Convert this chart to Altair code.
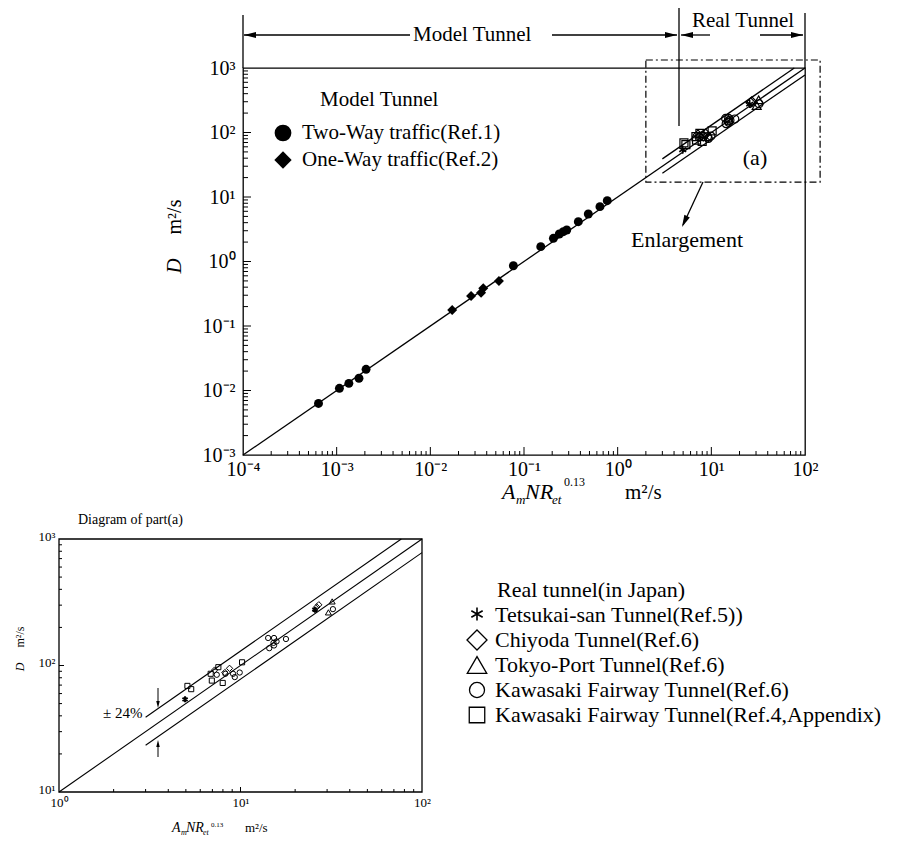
import altair as alt
import pandas as pd

# ---------------- data ----------------
# Model tunnel (main plot)
two_way_x = [6.4e-4, 1.07e-3, 1.35e-3, 1.73e-3, 2.06e-3, 0.077, 0.151, 0.206, 0.238, 0.263, 0.286, 0.38, 0.486, 0.647, 0.774]
two_way_d = [6.3e-3, 1.08e-2, 1.29e-2, 1.55e-2, 2.13e-2, 0.86, 1.70, 2.29, 2.67, 2.90, 3.08, 4.14, 5.45, 7.09, 8.77]
one_way_x = [0.0171, 0.0272, 0.0348, 0.0367, 0.054]
one_way_d = [0.177, 0.292, 0.328, 0.384, 0.499]

# Real tunnels (inset and main)
tetsukai_x = [4.95, 25.7]
tetsukai_d = [54, 276]
chiyoda_x = [7.2, 8.2, 8.7, 26.3, 27.0]
chiyoda_d = [92, 88, 95, 290, 302]
tokyo_x = [32.0, 30.5]
tokyo_d = [321, 263]
kawa6_x = [7.4, 8.25, 9.1, 9.3, 9.9, 14.2, 14.4, 15.2, 15.3, 15.8, 15.3, 17.8, 32.3]
kawa6_d = [84.5, 86, 86, 81, 88, 165, 137, 151, 165, 155, 144, 162, 279]
kawa4_x = [5.1, 5.35, 6.85, 6.95, 7.55, 7.98, 10.2]
kawa4_d = [69, 65, 86, 76, 97, 72.8, 106]

# fitted line and +-24% band
fit_x = [1e-4, 100]
fit_d = [1e-3, 1000]
ins_fit_x = [1, 100]
ins_fit_d = [10, 1000]
upper_x = [3.0, 76.9]
upper_d = [39, 1000]
lower_x = [3.0, 100]
lower_d = [23.4, 780]

# axis tick labels
main_x_vals = [1e-4, 1e-3, 1e-2, 1e-1, 1, 10, 100]
main_x_labs = ["10⁻⁴", "10⁻³", "10⁻²", "10⁻¹", "10⁰", "10¹", "10²"]
main_y_vals = [1e-3, 1e-2, 1e-1, 1, 10, 100, 1000]
main_y_labs = ["10⁻³", "10⁻²", "10⁻¹", "10⁰", "10¹", "10²", "10³"]
ins_x_vals = [1, 10, 100]
ins_x_labs = ["10⁰", "10¹", "10²"]
ins_y_vals = [10, 100, 1000]
ins_y_labs = ["10¹", "10²", "10³"]

# ---------------- layout ----------------
FONT = "Liberation Serif"
W, H = 562, 387
ARROW = "M0,0L-2,-0.5L-2,0.5Z"
ASTER = "M0,-1L0,1M-0.87,-0.5L0.87,0.5M-0.87,0.5L0.87,-0.5"
ONE = alt.Data(values=[{}])


def sup_expr(vals, labs):
    e = "''"
    for v, l in zip(vals[::-1], labs[::-1]):
        e = f"abs(datum.value / {float(v)!r} - 1) < 0.01 ? '{l}' : ({e})"
    return e


def axis(vals, labs, size, pad, **kw):
    return alt.Axis(values=vals, labelExpr=sup_expr(vals, labs), ticks=False, tickSize=0,
                    domain=False, grid=False, title=None, labelFont=FONT, labelFontSize=size,
                    labelPadding=pad, labelColor="black", labelFlush=False, labelOverlap=False, **kw)


XM = alt.Scale(type="log", domain=[1e-4, 100], nice=False)
YM = alt.Scale(type="log", domain=[1e-3, 1000], nice=False)
XI = alt.Scale(type="log", domain=[1, 100], range=[-184, 179], nice=False)
YI = alt.Scale(type="log", domain=[10, 1000], range=[724, 471], nice=False)
AX_MX = axis(main_x_vals, main_x_labs, 20, 4, orient="bottom")
AX_MY = axis(main_y_vals, main_y_labs, 20, 8, orient="left")
AX_IX = axis(ins_x_vals, ins_x_labs, 13, 4, orient="bottom", offset=337)
AX_IY = axis(ins_y_vals, ins_y_labs, 13, 4, orient="left", offset=184, labelOffset=-3)


def XMn(f): return alt.X(f, type="quantitative", scale=XM, axis=AX_MX)
def YMn(f): return alt.Y(f, type="quantitative", scale=YM, axis=AX_MY)
def XIn(f): return alt.X(f, type="quantitative", scale=XI, axis=AX_IX)
def YIn(f): return alt.Y(f, type="quantitative", scale=YI, axis=AX_IY)


def df(xs, ds):
    return pd.DataFrame({"x": xs, "d": ds})


def points(data, X, Y, shape, size, filled, sw=1.2):
    return alt.Chart(data).mark_point(shape=shape, size=size, filled=filled, color="black",
                                      opacity=1, strokeWidth=sw).encode(x=X("x"), y=Y("d"))


def line(data, X, Y, sw=1.3):
    return alt.Chart(data).mark_line(color="black", strokeWidth=sw).encode(x=X("x"), y=Y("d"))


def ticks_x(vals, X, ybase, length):
    return alt.Chart(pd.DataFrame({"v": vals})).mark_rule(color="black", strokeWidth=1).encode(
        x=X("v"), y=alt.value(ybase), y2=alt.value(ybase - length))


def ticks_y(vals, Y, xbase, length):
    return alt.Chart(pd.DataFrame({"v": vals})).mark_rule(color="black", strokeWidth=1).encode(
        y=Y("v"), x=alt.value(xbase), x2=alt.value(xbase + length))


def txt(x, y, s, size, align="left", baseline="middle", angle=0, style="normal"):
    kw = dict(align=align, baseline=baseline, font=FONT, fontSize=size, color="black", fontStyle=style, text=s)
    if angle:
        kw["angle"] = angle
    return alt.Chart(ONE).mark_text(**kw).encode(x=alt.value(x), y=alt.value(y))


def seg(x1, y1, x2, y2, sw=1.3):
    return alt.Chart(ONE).mark_rule(color="black", strokeWidth=sw).encode(
        x=alt.value(x1), y=alt.value(y1), x2=alt.value(x2), y2=alt.value(y2))


def sym(x, y, shape, size, filled, angle=0, sw=1.3):
    kw = dict(shape=shape, size=size, filled=filled, color="black", opacity=1, strokeWidth=sw)
    if angle:
        kw["angle"] = angle
    return alt.Chart(ONE).mark_point(**kw).encode(x=alt.value(x), y=alt.value(y))


def minors(e0, e1):
    return [m * 10.0 ** e for e in range(e0, e1) for m in range(2, 10)]


def majors(e0, e1):
    return [10.0 ** e for e in range(e0, e1 + 1)]


# ---------------- main plot ----------------
box = pd.DataFrame({"x": [2.0], "x2": [145.0], "d": [17.0], "d2": [1330.0]})
main = alt.layer(
    line(df(fit_x, fit_d), XMn, YMn),
    line(df(upper_x, upper_d), XMn, YMn),
    line(df(lower_x, lower_d), XMn, YMn),
    ticks_x(minors(-4, 2), XMn, H, 4),
    ticks_x(majors(-3, 1), XMn, H, 8),
    ticks_y(minors(-3, 3), YMn, 0, 5),
    ticks_y(majors(-2, 2), YMn, 0, 8),
    points(df(two_way_x, two_way_d), XMn, YMn, "circle", 80, True),
    points(df(one_way_x, one_way_d), XMn, YMn, "diamond", 100, True),
    points(df(kawa4_x, kawa4_d), XMn, YMn, "square", 64, False),
    points(df(kawa6_x, kawa6_d), XMn, YMn, "circle", 64, False),
    points(df(chiyoda_x, chiyoda_d), XMn, YMn, "diamond", 90, False),
    points(df(tokyo_x, tokyo_d), XMn, YMn, "triangle-up", 80, False),
    points(df(tetsukai_x, tetsukai_d), XMn, YMn, ASTER, 64, False, 1.5),
    alt.Chart(box).mark_rect(filled=False, stroke="black", strokeWidth=1.2, strokeDash=[7, 3, 2, 3]).encode(
        x=XMn("x"), x2="x2", y=YMn("d"), y2="d2"),
)

# ---------------- inset (diagram of part (a)) ----------------
frame = pd.DataFrame({"x": [1.0], "x2": [100.0], "d": [10.0], "d2": [1000.0]})
inset = alt.layer(
    alt.Chart(frame).mark_rect(filled=False, stroke="black", strokeWidth=1.3).encode(
        x=XIn("x"), x2="x2", y=YIn("d"), y2="d2"),
    line(df(ins_fit_x, ins_fit_d), XIn, YIn, 1.1),
    line(df(upper_x, upper_d), XIn, YIn, 1.1),
    line(df(lower_x, lower_d), XIn, YIn, 1.1),
    ticks_x(minors(0, 2), XIn, 724, 3),
    ticks_x(majors(1, 1), XIn, 724, 5),
    ticks_y(minors(1, 3), YIn, -184, 3),
    ticks_y(majors(2, 2), YIn, -184, 5),
    points(df(kawa4_x, kawa4_d), XIn, YIn, "square", 26, False, 1),
    points(df(kawa6_x, kawa6_d), XIn, YIn, "circle", 28, False, 1),
    points(df(chiyoda_x, chiyoda_d), XIn, YIn, "diamond", 40, False, 1),
    points(df(tokyo_x, tokyo_d), XIn, YIn, "triangle-up", 36, False, 1),
    points(df(tetsukai_x, tetsukai_d), XIn, YIn, ASTER, 36, False, 2),
)

# ---------------- annotations ----------------
annots = [
    # brackets above the main plot
    seg(0, -53, 0, 0), seg(W, -55, W, 0), seg(436, -60, 436, 58),
    seg(1, -33, 167, -33), sym(1, -33, ARROW, 144, True, 180),
    txt(170, -33, "Model Tunnel", 21),
    seg(309, -33, 434, -33), sym(434, -33, ARROW, 144, True),
    seg(438, -33, 467, -33), sym(438, -33, ARROW, 144, True, 180),
    seg(517, -33, 560, -33), sym(560, -33, ARROW, 144, True),
    txt(500, -47, "Real Tunnel", 21, align="center"),
    # enlargement
    txt(512, 90, "(a)", 22, align="center"),
    seg(460, 114, 440, 157), sym(439, 159, ARROW, 144, True, 115),
    txt(444, 172, "Enlargement", 22, align="center"),
    # model-tunnel legend
    txt(77, 32, "Model Tunnel", 21),
    sym(40, 65, "circle", 280, True),
    txt(59, 65, "Two-Way traffic(Ref.1)", 21),
    sym(40, 92, "diamond", 300, True),
    txt(59, 92, "One-Way traffic(Ref.2)", 21),
    # main axis titles
    txt(-68, 198, "D", 21, align="center", angle=270, style="italic"),
    txt(-68, 149, "m²/s", 20, align="center", angle=270),
    txt(259, 431, "A", 22, baseline="alphabetic", style="italic"),
    txt(273, 436, "m", 13, baseline="alphabetic", style="italic"),
    txt(282, 431, "NR", 22, baseline="alphabetic", style="italic"),
    txt(309, 436, "et", 13, baseline="alphabetic", style="italic"),
    txt(321, 418, "0.13", 12, baseline="alphabetic"),
    txt(382, 431, "m²/s", 21, baseline="alphabetic"),
    # inset texts
    txt(-165, 452, "Diagram of part(a)", 14),
    txt(-140, 645, "±  24%", 15),
    seg(-85, 620, -85, 634, 1), sym(-85, 640, ARROW, 49, True, 90),
    seg(-85, 689, -85, 678, 1), sym(-85, 672, ARROW, 49, True, 270),
    txt(-223, 599, "D", 12, align="center", angle=270, style="italic"),
    txt(-223, 569, "m²/s", 12, align="center", angle=270),
    txt(-71, 764, "A", 14, baseline="alphabetic", style="italic"),
    txt(-62, 767, "m", 8, baseline="alphabetic", style="italic"),
    txt(-57, 764, "NR", 14, baseline="alphabetic", style="italic"),
    txt(-40, 767, "et", 8, baseline="alphabetic", style="italic"),
    txt(-32, 759, "0.13", 7, baseline="alphabetic"),
    txt(2, 764, "m²/s", 13, baseline="alphabetic"),
    # real-tunnel legend
    txt(254, 522, "Real tunnel(in Japan)", 22),
    sym(234, 546, ASTER, 170, False, sw=1.6),
    txt(252, 547, "Tetsukai-san Tunnel(Ref.5))", 22),
    sym(234, 572, "diamond", 400, False),
    txt(252, 572, "Chiyoda Tunnel(Ref.6)", 22),
    sym(234, 597, "triangle-up", 380, False),
    txt(252, 597, "Tokyo-Port Tunnel(Ref.6)", 22),
    sym(234, 622, "circle", 227, False),
    txt(252, 622, "Kawasaki Fairway Tunnel(Ref.6)", 22),
    sym(234, 647, "square", 240, False),
    txt(252, 647, "Kawasaki Fairway Tunnel(Ref.4,Appendix)", 22),
]

chart = alt.layer(main, inset, *annots).resolve_scale(
    x="independent", y="independent"
).properties(
    width=W, height=H,
    autosize=alt.AutoSizeParams(type="none"),
    padding={"left": 235, "top": 60, "right": 105, "bottom": 383},
    background="white",
).configure_view(stroke="black", strokeWidth=1.3)

chart.save("out.html", embed_options={"renderer": "svg", "actions": False})
